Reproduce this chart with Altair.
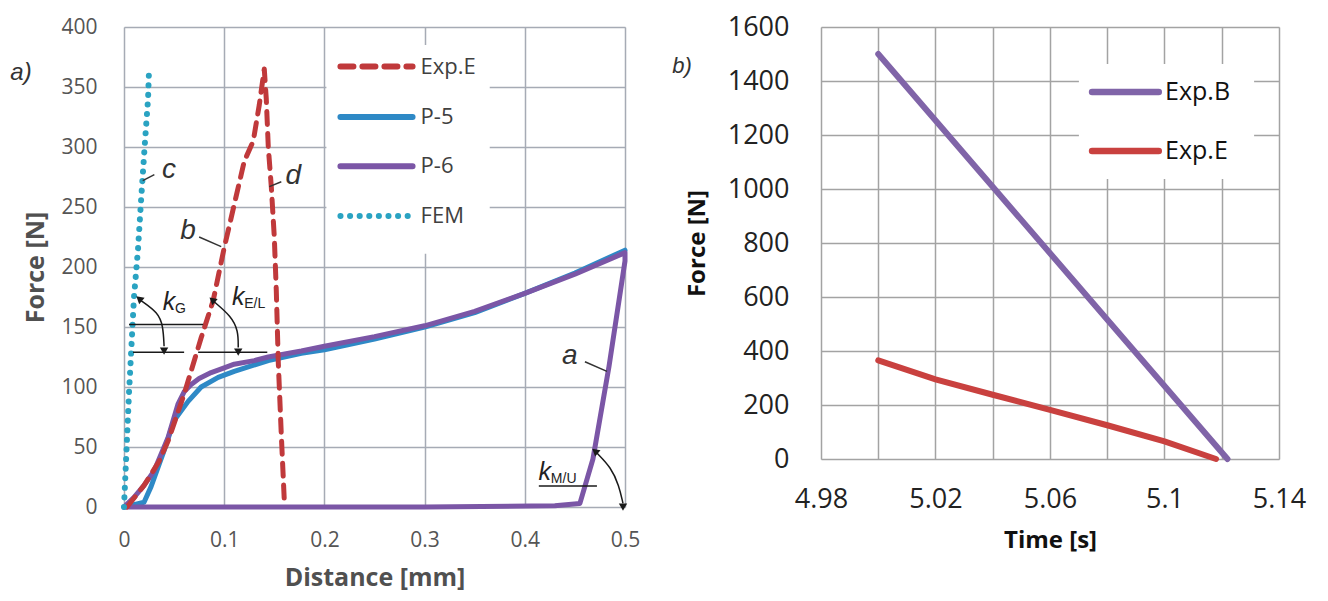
import altair as alt
import pandas as pd

# ---------------- Panel a) data ----------------
fem_x = [0, 0.005, 0.010, 0.014, 0.017, 0.019, 0.021, 0.024, 0.025]
fem_y = [0, 95, 175, 215, 255, 280, 305, 340, 365]

expE_x = [0.003, 0.02, 0.035, 0.044, 0.06, 0.077, 0.089, 0.10, 0.11, 0.12, 0.129, 0.135,
          0.14, 0.142, 0.144, 0.147, 0.15, 0.152, 0.154, 0.157, 0.16]
expE_y = [0, 18, 38, 55, 94, 141, 172, 216, 252, 288, 305, 335,
          365, 340, 300, 267, 225, 180, 120, 60, 5]

p5_x = [0, 0.01, 0.02, 0.027, 0.04, 0.05, 0.064, 0.077, 0.094, 0.11, 0.144, 0.177,
        0.2, 0.25, 0.3, 0.35, 0.4, 0.45, 0.5]
p5_y = [0, 2, 4, 17, 47, 72, 88, 100, 108, 113, 122, 128,
        131, 140, 150, 162, 178, 195, 214]

p6_x = [0, 0.01, 0.02, 0.03, 0.037, 0.044, 0.054, 0.06, 0.067, 0.075, 0.087, 0.1, 0.11,
        0.13, 0.144, 0.177, 0.2, 0.25, 0.3, 0.35, 0.4, 0.45, 0.5,
        0.5, 0.484, 0.468, 0.455, 0.43, 0.3, 0.0]
p6_y = [0, 8, 18, 30, 44, 58, 86, 96, 102, 107, 112, 116, 119,
        122, 125, 130, 134, 142, 151, 163, 178, 194, 212,
        205, 117, 40, 3, 1, 0, 0]

series_a = ["Exp.E", "P-5", "P-6", "FEM"]
colors_a = {"Exp.E": "#C0393B", "P-5": "#2E89C6", "P-6": "#7B56A6", "FEM": "#2AA3C2"}

# ---------------- Panel b) data ----------------
expB_t = [5.0, 5.122]
expB_f = [1500, 0]
expE2_t = [5.0, 5.02, 5.04, 5.06, 5.08, 5.1, 5.118]
expE2_f = [365, 295, 238, 182, 125, 65, 0]
series_b = ["Exp.B", "Exp.E"]
colors_b = {"Exp.B": "#8064A8", "Exp.E": "#C9413F"}

# annotation labels (panel a)
lab_t = ["c", "d", "b", "a"]
lab_x = [0.045, 0.169, 0.064, 0.445]
lab_y = [281, 276, 230, 126]
lead_x = [0.0187, 0.145, 0.075, 0.46]
lead_y = [272, 267, 225, 121]
lead_x2 = [0.0303, 0.157, 0.097, 0.482]
lead_y2 = [277, 271, 217, 113]

FONT = "Open Sans"
TXT = "Liberation Sans"


def df_xy(x, y):
    return pd.DataFrame({"x": x, "y": y, "o": list(range(len(x)))})


# ====================== Panel a ======================
XA = alt.X("x:Q", scale=alt.Scale(domain=[0, 0.5], nice=False, zero=False),
           axis=alt.Axis(values=[0, 0.1, 0.2, 0.3, 0.4, 0.5], format="~g", title="Distance [mm]",
                         labelFontSize=21, labelColor="#555555", labelPadding=22, labelFlush=False,
                         titleFontSize=25, titleColor="#505050", titleFontWeight="bold",
                         titlePadding=15, gridColor="#A6ABB5", gridWidth=1.5,
                         domain=False, ticks=False, labelFont=FONT, titleFont=FONT))
YA = alt.Y("y:Q", scale=alt.Scale(domain=[0, 400], nice=False),
           axis=alt.Axis(values=list(range(0, 401, 50)), format="d", title="Force [N]",
                         labelFontSize=21, labelColor="#555555", labelPadding=27,
                         titleFontSize=25, titleColor="#505050", titleFontWeight="bold",
                         titlePadding=12, gridColor="#A6ABB5", gridWidth=1.5,
                         domain=False, ticks=False, labelFont=FONT, titleFont=FONT))

box_a = alt.Chart(pd.DataFrame({"x": [0.202], "x2": [0.365], "y": [385], "y2": [211]})).mark_rect(
    fill="white").encode(x=XA, x2="x2:Q", y=YA, y2="y2:Q")


def series_line(x, y, color, dash=None, width=5):
    kw = dict(color=color, strokeWidth=width, strokeCap="round", strokeJoin="round")
    if dash:
        kw["strokeDash"] = dash
    return alt.Chart(df_xy(x, y)).mark_line(**kw).encode(x=XA, y=YA, order="o:Q")


l_p5 = series_line(p5_x, p5_y, colors_a["P-5"])
l_p6 = series_line(p6_x, p6_y, colors_a["P-6"])
l_e = series_line(expE_x, expE_y, colors_a["Exp.E"], dash=[13, 9])
l_fem = series_line(fem_x, fem_y, colors_a["FEM"], dash=[0.1, 9.5], width=6)

# manual legend for panel a
leg_a = pd.DataFrame({
    "s": series_a,
    "x0": [0.216] * 4, "x2": [0.288] * 4,
    "y": [367, 325, 284, 242.5],
    "x": [0.296] * 4,
})
dash_map = {"Exp.E": [13, 9], "P-5": [1, 0], "P-6": [1, 0], "FEM": [0.1, 9.5]}
leg_lines = []
for s in series_a:
    d = leg_a[leg_a.s == s][["x0", "x2", "y"]].rename(columns={"x0": "x"})
    leg_lines.append(alt.Chart(d).mark_rule(color=colors_a[s], strokeWidth=6, strokeCap="round",
                                            strokeDash=dash_map[s]).encode(x=XA, x2="x2:Q", y=YA))
leg_text_a = alt.Chart(leg_a[["s", "x", "y"]]).mark_text(
    align="left", baseline="middle", font=FONT, fontSize=22, color="#404040").encode(
    x=XA, y=YA, text="s:N")

# annotations
ann = pd.DataFrame({"t": lab_t, "x": lab_x, "y": lab_y})
ann_text = alt.Chart(ann).mark_text(font=TXT, fontStyle="italic", fontSize=28, color="#333333",
                                    baseline="middle", align="center").encode(x=XA, y=YA, text="t:N")
lead = pd.DataFrame({"x": lead_x, "y": lead_y, "x2": lead_x2, "y2": lead_y2})
lead_r = alt.Chart(lead).mark_rule(color="#333333", strokeWidth=1.5).encode(
    x=XA, y=YA, x2="x2:Q", y2="y2:Q")

# k labels
k_df = pd.DataFrame({"x": [0.045, 0.114, 0.42], "y": [171, 175, 29], "t": ["k", "k", "k"]})
sub_df = pd.DataFrame({"x": [0.051, 0.12, 0.426], "y": [165, 169, 23], "t": ["G", "E/L", "M/U"]})
k_text = alt.Chart(k_df).mark_text(font=TXT, fontStyle="italic", fontSize=25, color="#222222",
                                   baseline="middle", align="center").encode(x=XA, y=YA, text="t:N")
sub_text = alt.Chart(sub_df).mark_text(font=TXT, fontSize=14, color="#222222",
                                       baseline="middle", align="left").encode(x=XA, y=YA, text="t:N")
# reference lines
ref = pd.DataFrame({"x": [0.005, 0.009, 0.074, 0.414], "x2": [0.079, 0.06, 0.143, 0.472],
                    "y": [152, 129, 129, 17.5]})
ref_r = alt.Chart(ref).mark_rule(color="#1a1a1a", strokeWidth=1.5).encode(x=XA, x2="x2:Q", y=YA)

# curved arrows
arc = pd.DataFrame({
    "id": [0, 0, 0, 0, 1, 1, 1, 1, 2, 2, 2, 2],
    "x": [0.017, 0.034, 0.039, 0.040, 0.090, 0.107, 0.114, 0.114, 0.472, 0.486, 0.494, 0.498],
    "y": [172, 162, 151, 134, 171, 159, 147, 133, 45, 33, 18, 3],
    "o": [0, 1, 2, 3, 0, 1, 2, 3, 0, 1, 2, 3],
})
arc_l = alt.Chart(arc).mark_line(color="#1a1a1a", strokeWidth=1.5, interpolate="basis").encode(
    x=XA, y=YA, detail="id:N", order="o:Q")
heads = pd.DataFrame({"x": [0.016, 0.040, 0.089, 0.114, 0.471, 0.498],
                      "y": [173, 131, 172, 130, 46, 1],
                      "a": [310, 180, 310, 180, 310, 180]})
heads_p = alt.Chart(heads).mark_point(shape="triangle", filled=True, size=70, color="#1a1a1a",
                                      opacity=1).encode(x=XA, y=YA, angle=alt.Angle("a:Q", scale=None))

tag_a = alt.Chart(pd.DataFrame({"t": ["a)"]})).mark_text(
    font=TXT, fontStyle="italic", fontSize=24, color="#333333", align="center", baseline="middle"
).encode(x=alt.value(-103), y=alt.value(46), text="t:N")

panel_a = alt.layer(box_a, l_p5, l_p6, l_e, l_fem, *leg_lines, leg_text_a, ann_text, lead_r,
                    ref_r, arc_l, heads_p, k_text, sub_text, tag_a).properties(
    width=501, height=480)

# ====================== Panel b ======================
XB = alt.X("x:Q", scale=alt.Scale(domain=[4.98, 5.14], nice=False, zero=False),
           axis=alt.Axis(values=[4.98, 5.0, 5.02, 5.04, 5.06, 5.08, 5.1, 5.12, 5.14], format="~g",
                         labelExpr="round(datum.value*100) % 4 == 2 ? datum.label : ''",
                         title="Time [s]", labelFontSize=27, labelColor="#222222", labelPadding=27,
                         labelFlush=False,
                         titleFontSize=24, titleColor="#111111", titleFontWeight="bold",
                         titlePadding=16, gridColor="#A3A3A3", gridWidth=1.5,
                         domain=False, ticks=False, labelFont=FONT, titleFont=FONT))
YB = alt.Y("y:Q", scale=alt.Scale(domain=[0, 1600], nice=False),
           axis=alt.Axis(values=list(range(0, 1601, 200)), format="d", title="Force [N]",
                         labelFontSize=27, labelColor="#222222", labelPadding=32,
                         titleFontSize=24, titleColor="#111111", titleFontWeight="bold",
                         titlePadding=18, gridColor="#A3A3A3", gridWidth=1.5,
                         domain=False, ticks=False, labelFont=FONT, titleFont=FONT))

box_b = alt.Chart(pd.DataFrame({"x": [5.0701], "x2": [5.1313], "y": [1463], "y2": [1037]})).mark_rect(
    fill="white").encode(x=XB, x2="x2:Q", y=YB, y2="y2:Q")


def series_line_b(x, y, color):
    return alt.Chart(df_xy(x, y)).mark_line(color=color, strokeWidth=6, strokeCap="round").encode(
        x=XB, y=YB, order="o:Q")


lb_e = series_line_b(expE2_t, expE2_f, colors_b["Exp.E"])
lb_b = series_line_b(expB_t, expB_f, colors_b["Exp.B"])

leg_b = pd.DataFrame({"s": series_b, "x0": [5.0747] * 2, "x2": [5.098] * 2, "y": [1359, 1141],
                      "x": [5.1002] * 2})
leg_lines_b = [alt.Chart(leg_b[leg_b.s == s][["x0", "x2", "y"]].rename(columns={"x0": "x"})).mark_rule(
    color=colors_b[s], strokeWidth=6.5, strokeCap="round").encode(x=XB, x2="x2:Q", y=YB)
    for s in series_b]
leg_text_b = alt.Chart(leg_b[["s", "x", "y"]]).mark_text(
    align="left", baseline="middle", font=FONT, fontSize=25, color="#111111").encode(
    x=XB, y=YB, text="s:N")
tag_b = alt.Chart(pd.DataFrame({"t": ["b)"]})).mark_text(
    font=TXT, fontStyle="italic", fontSize=22, color="#333333", align="center", baseline="middle"
).encode(x=alt.value(-139), y=alt.value(39), text="t:N")

panel_b = alt.layer(box_b, lb_e, lb_b, *leg_lines_b, leg_text_b, tag_b).properties(
    width=458, height=432)

chart = alt.hconcat(panel_a, panel_b, spacing=30).properties(
    padding={"left": 1, "top": 4, "right": 5, "bottom": 0}
).configure_view(stroke="#A0A0A0", strokeWidth=1.5).configure(background="white")

chart.save("out.html", embed_options={"renderer": "svg", "actions": False})
